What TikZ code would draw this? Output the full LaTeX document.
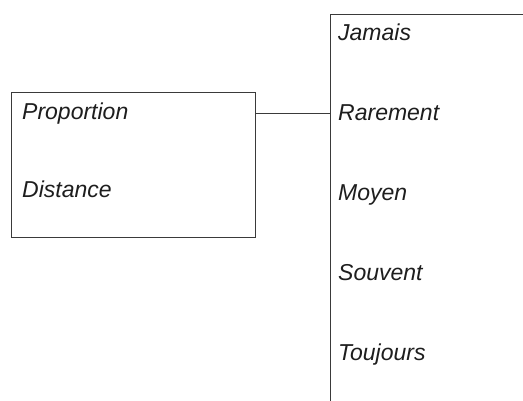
\documentclass[tikz,border=0pt]{standalone}
\usepackage{fontspec}
\setmainfont{Liberation Sans}
\definecolor{linecol}{HTML}{3A3A3A}
\definecolor{textcol}{HTML}{1E1E1E}
\tikzset{
  boxline/.style={draw=linecol, line width=0.9pt},
  lbl/.style={anchor=base west, inner sep=0pt, text=textcol, font=\fontsize{23}{27}\selectfont\itshape},
}
\begin{document}
\begin{tikzpicture}[x=1pt,y=-1pt]
\useasboundingbox (0,0) rectangle (523,400);
\clip (0,0) rectangle (523,400);
\fill[white] (0,0) rectangle (523,400);
\node[boxline, rectangle, inner sep=0pt, minimum width=244pt, minimum height=145pt, anchor=north west] (left) at (10.5,91.5) {};
\node[boxline, rectangle, inner sep=0pt, minimum width=260pt, minimum height=460pt, anchor=north west] (right) at (329.5,13.5) {};
\coordinate (lc) at (254.5,113);
\coordinate (rc) at (329.5,113);
\draw[boxline] (left.east |- lc) -- (right.west |- rc);
\node[lbl] (proportion) at (22,119) {Proportion};
\node[lbl] (distance) at (22,197) {Distance};
\node[lbl] (jamais) at (338,40) {Jamais};
\node[lbl] (rarement) at (338,120) {Rarement};
\node[lbl] (moyen) at (338,200) {Moyen};
\node[lbl] (souvent) at (338,280) {Souvent};
\node[lbl] (toujours) at (338,360) {Toujours};
\end{tikzpicture}
\end{document}
